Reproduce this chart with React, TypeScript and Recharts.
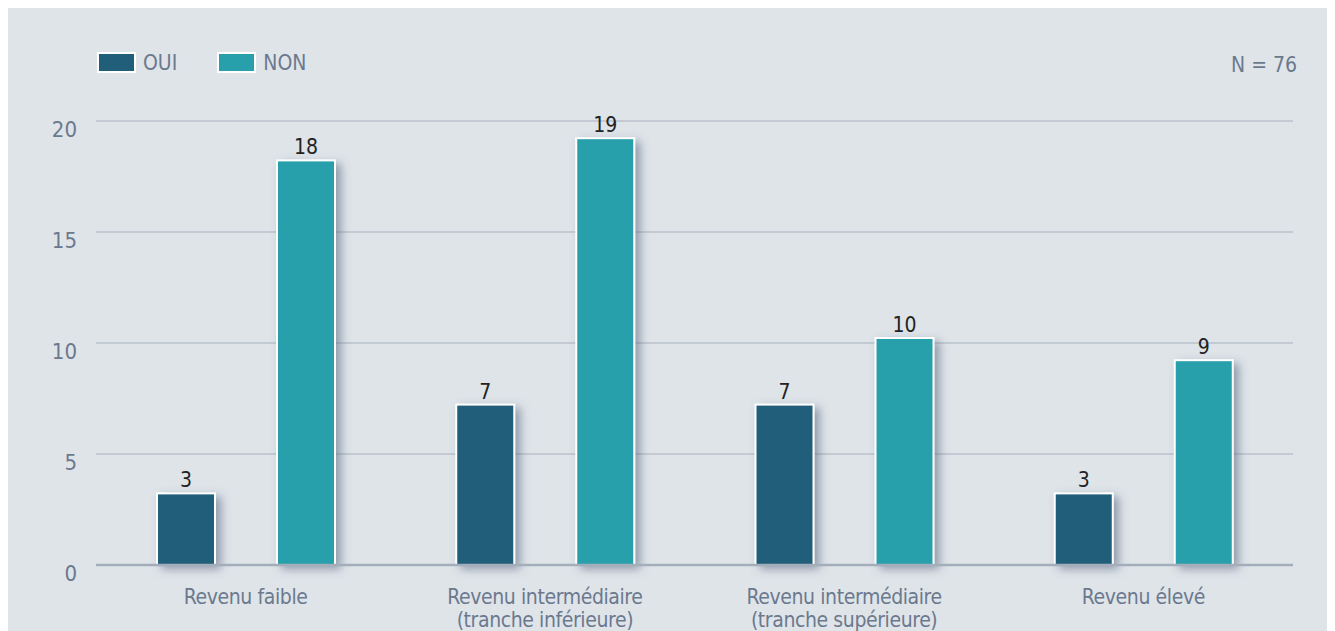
import React from "react";
import { BarChart, Bar, XAxis, YAxis, CartesianGrid, LabelList, ReferenceLine } from "recharts";

const categories = [
  "Revenu faible",
  "Revenu intermédiaire\n(tranche inférieure)",
  "Revenu intermédiaire\n(tranche supérieure)",
  "Revenu élevé",
];
const ouiValues = [3, 7, 7, 3];
const nonValues = [18, 19, 10, 9];
const yTicks = [0, 5, 10, 15, 20];
const seriesNames = ["OUI", "NON"];
const nLabel = "N = 76";

const data = categories.map((c, i) => ({ cat: c, oui: ouiValues[i], non: nonValues[i] }));

const FONT = "'Liberation Sans Narrow', 'Arial Narrow', 'DejaVu Sans Condensed', 'Liberation Sans', sans-serif";
const AXIS_COLOR = "#6b798e";
const BG = "#dfe4e9";
const OUI_COLOR = "#215e79";
const NON_COLOR = "#28a0ab";

const EXTRA = 6;

const BarShape = (props: any) => {
  const { x, y, width, height, fill } = props;
  if (width == null || height == null) return null;
  const top = y - EXTRA;
  const h = height + EXTRA;
  return (
    <g>
      <rect x={x} y={top} width={width} height={h} fill="#ffffff" filter="url(#barShadow)" />
      <rect x={x + 2} y={top + 2} width={width - 4} height={h - 2} fill={fill} />
    </g>
  );
};

const ValueLabel = (props: any) => {
  const { x, y, width, value } = props;
  return (
    <text x={x + width / 2} y={y - EXTRA - 5} textAnchor="middle" fill="#222222" fontSize={21} fontFamily={FONT}>
      {value}
    </text>
  );
};

const XTick = (props: any) => {
  const { x, y, payload } = props;
  const lines = String(payload.value).split("\n");
  return (
    <g>
      {lines.map((l, i) => (
        <text key={i} x={x} y={y + 31 + i * 23} textAnchor="middle" fill={AXIS_COLOR} fontSize={21} letterSpacing={-0.4} fontFamily={FONT}>
          {l}
        </text>
      ))}
    </g>
  );
};

const YTick = (props: any) => {
  const { x, y, payload } = props;
  return (
    <text x={x} y={y + 16} textAnchor="end" fill={AXIS_COLOR} fontSize={22} fontFamily={FONT}>
      {payload.value}
    </text>
  );
};

const LegendBlock = () => {
  const colors = [OUI_COLOR, NON_COLOR];
  return (
    <div
      style={{
        position: "absolute",
        top: 44,
        left: 91,
        display: "flex",
        alignItems: "center",
        fontFamily: FONT,
        fontSize: 21,
        color: AXIS_COLOR,
      }}
    >
      {seriesNames.map((n, i) => (
        <div key={n} style={{ display: "flex", alignItems: "center", marginRight: i === 0 ? 40 : 0 }}>
          <div style={{ width: 35, height: 17, background: colors[i], border: "2px solid #ffffff", marginRight: 7 }} />
          <span style={{ lineHeight: "21px", position: "relative", top: 1 }}>{n}</span>
        </div>
      ))}
    </div>
  );
};

export default function App() {
  return (
    <div style={{ position: "relative", marginLeft: -2, width: 1329, height: 623, background: BG, overflow: "hidden" }}>
      <svg width={0} height={0} style={{ position: "absolute" }}>
        <defs>
          <filter id="barShadow" x="-40%" y="-10%" width="180%" height="130%">
            <feDropShadow dx={5} dy={4} stdDeviation={5} floodColor="#4e5d75" floodOpacity={0.55} />
          </filter>
        </defs>
      </svg>
      <LegendBlock />
      <div style={{ position: "absolute", right: 38, top: 45, fontFamily: FONT, fontSize: 21, color: AXIS_COLOR }}>
        {nLabel}
      </div>
      <BarChart
        width={1329}
        height={623}
        data={data}
        margin={{ top: 113, right: 42, left: 20, bottom: 6 }}
        barSize={60}
        barGap={60}
      >
        <CartesianGrid vertical={false} stroke="#a7b1bc" strokeWidth={1} />
        <XAxis dataKey="cat" axisLine={false} tickLine={false} tick={<XTick />} height={60} interval={0} />
        <YAxis
          domain={[0, 20]}
          ticks={yTicks}
          axisLine={false}
          tickLine={false}
          tickMargin={13}
          width={70}
          tick={<YTick />}
        />
        <Bar dataKey="oui" name="OUI" fill={OUI_COLOR} shape={<BarShape />} isAnimationActive={false}>
          <LabelList dataKey="oui" content={<ValueLabel />} />
        </Bar>
        <Bar dataKey="non" name="NON" fill={NON_COLOR} shape={<BarShape />} isAnimationActive={false}>
          <LabelList dataKey="non" content={<ValueLabel />} />
        </Bar>
        <ReferenceLine y={0} stroke="#a3aeba" strokeWidth={2.5} />
      </BarChart>
    </div>
  );
}
